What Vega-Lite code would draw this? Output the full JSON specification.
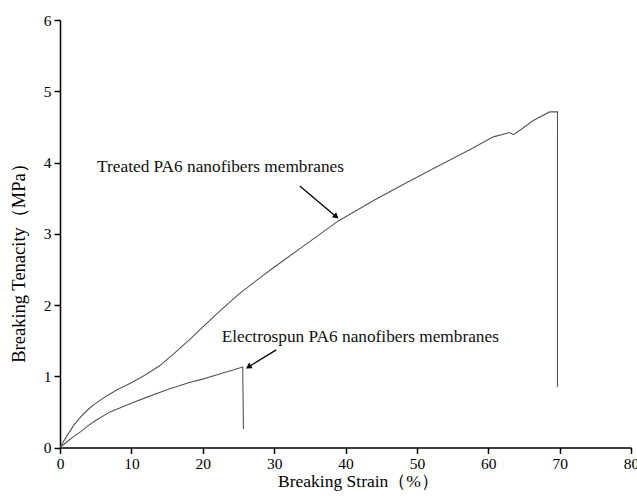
{
  "$schema": "https://vega.github.io/schema/vega-lite/v6.json",
  "width": 571,
  "height": 427.5,
  "autosize": "none",
  "padding": {"left": 60, "top": 20, "right": 6, "bottom": 48.5},
  "background": "white",
  "config": {
    "view": {"stroke": null},
    "font": "Liberation Serif",
    "axis": {
      "domainColor": "black",
      "domainWidth": 1.5,
      "tickColor": "black",
      "tickWidth": 1.5,
      "grid": false,
      "labelFont": "Liberation Serif",
      "labelFontSize": 15.5,
      "labelColor": "black",
      "titleFont": "Liberation Serif",
      "titleFontSize": 17.5,
      "titleFontWeight": "normal",
      "titleColor": "black"
    }
  },
  "datasets": {
    "curves": [
      {"series": "Treated", "strain": 0, "tenacity": 0},
      {"series": "Treated", "strain": 1, "tenacity": 0.17},
      {"series": "Treated", "strain": 2, "tenacity": 0.32},
      {"series": "Treated", "strain": 3, "tenacity": 0.44},
      {"series": "Treated", "strain": 4, "tenacity": 0.54},
      {"series": "Treated", "strain": 5, "tenacity": 0.62},
      {"series": "Treated", "strain": 6, "tenacity": 0.69},
      {"series": "Treated", "strain": 7, "tenacity": 0.75},
      {"series": "Treated", "strain": 8, "tenacity": 0.81},
      {"series": "Treated", "strain": 10, "tenacity": 0.91},
      {"series": "Treated", "strain": 12, "tenacity": 1.02},
      {"series": "Treated", "strain": 14, "tenacity": 1.15},
      {"series": "Treated", "strain": 16, "tenacity": 1.32},
      {"series": "Treated", "strain": 18, "tenacity": 1.5},
      {"series": "Treated", "strain": 20, "tenacity": 1.69},
      {"series": "Treated", "strain": 22, "tenacity": 1.88},
      {"series": "Treated", "strain": 25, "tenacity": 2.15},
      {"series": "Treated", "strain": 28, "tenacity": 2.38},
      {"series": "Treated", "strain": 30, "tenacity": 2.53},
      {"series": "Treated", "strain": 34, "tenacity": 2.82},
      {"series": "Treated", "strain": 39, "tenacity": 3.18},
      {"series": "Treated", "strain": 44, "tenacity": 3.47},
      {"series": "Treated", "strain": 48.6, "tenacity": 3.72},
      {"series": "Treated", "strain": 53, "tenacity": 3.95},
      {"series": "Treated", "strain": 57.4, "tenacity": 4.18},
      {"series": "Treated", "strain": 60.7, "tenacity": 4.36},
      {"series": "Treated", "strain": 63.0, "tenacity": 4.42},
      {"series": "Treated", "strain": 63.5, "tenacity": 4.39},
      {"series": "Treated", "strain": 64.4, "tenacity": 4.45},
      {"series": "Treated", "strain": 66.3, "tenacity": 4.59},
      {"series": "Treated", "strain": 68.6, "tenacity": 4.71},
      {"series": "Treated", "strain": 69.7, "tenacity": 4.71},
      {"series": "Treated", "strain": 69.7, "tenacity": 0.85},
      {"series": "Electrospun", "strain": 0, "tenacity": 0},
      {"series": "Electrospun", "strain": 1, "tenacity": 0.08},
      {"series": "Electrospun", "strain": 2, "tenacity": 0.16},
      {"series": "Electrospun", "strain": 3, "tenacity": 0.23},
      {"series": "Electrospun", "strain": 4, "tenacity": 0.31},
      {"series": "Electrospun", "strain": 5, "tenacity": 0.38},
      {"series": "Electrospun", "strain": 7, "tenacity": 0.5},
      {"series": "Electrospun", "strain": 10, "tenacity": 0.62},
      {"series": "Electrospun", "strain": 12, "tenacity": 0.7},
      {"series": "Electrospun", "strain": 15, "tenacity": 0.81},
      {"series": "Electrospun", "strain": 18, "tenacity": 0.91},
      {"series": "Electrospun", "strain": 20, "tenacity": 0.96},
      {"series": "Electrospun", "strain": 22, "tenacity": 1.02},
      {"series": "Electrospun", "strain": 24, "tenacity": 1.08},
      {"series": "Electrospun", "strain": 25.6, "tenacity": 1.13},
      {"series": "Electrospun", "strain": 25.7, "tenacity": 0.26}
    ],
    "labels": [
      {"label": "Treated PA6 nanofibers membranes", "strain": 5.2, "tenacity": 3.94},
      {"label": "Electrospun PA6 nanofibers membranes", "strain": 22.65, "tenacity": 1.55}
    ],
    "arrowTreated": [
      {"strain": 33.6, "tenacity": 3.67, "strain2": 38.7, "tenacity2": 3.24}
    ],
    "arrowElectro": [
      {"strain": 30.3, "tenacity": 1.37, "strain2": 26.4, "tenacity2": 1.13}
    ]
  },
  "layer": [
    {
      "data": {"name": "curves"},
      "mark": {"type": "line", "color": "#555555", "strokeWidth": 1.1},
      "encoding": {
        "x": {
          "field": "strain", "type": "quantitative",
          "scale": {"domain": [0, 80], "nice": false, "zero": false},
          "axis": {
            "title": "Breaking Strain（%）",
            "values": [0, 5, 10, 15, 20, 25, 30, 35, 40, 45, 50, 55, 60, 65, 70, 75, 80],
            "labelExpr": "datum.value % 10 === 0 ? format(datum.value, 'd') : ''",
            "tickSize": {"expr": "datum.value % 10 === 0 ? 6 : 3"},
            "labelPadding": 3,
            "labelFlush": false,
            "labelOverlap": false,
            "titleX": 298,
            "titleY": 38.5,
            "titleBaseline": "alphabetic"
          }
        },
        "y": {
          "field": "tenacity", "type": "quantitative",
          "scale": {"domain": [0, 6], "nice": false, "zero": false},
          "axis": {
            "title": "Breaking Tenacity（MPa）",
            "titleFontSize": 18.5,
            "values": [0, 0.5, 1, 1.5, 2, 2.5, 3, 3.5, 4, 4.5, 5, 5.5, 6],
            "labelExpr": "datum.value % 1 === 0 ? format(datum.value, 'd') : ''",
            "tickSize": {"expr": "datum.value % 1 === 0 ? 6 : 3"},
            "labelPadding": 3,
            "labelFlush": false,
            "labelOverlap": false,
            "titleX": -32,
            "titleY": 238,
            "titleAnchor": null
          }
        },
        "detail": {"field": "series"},
        "order": {"value": null}
      }
    },
    {
      "data": {"name": "labels"},
      "mark": {"type": "text", "align": "left", "baseline": "middle", "fontSize": 17.3, "font": "Liberation Serif", "color": "#111111"},
      "encoding": {
        "x": {"field": "strain", "type": "quantitative"},
        "y": {"field": "tenacity", "type": "quantitative"},
        "text": {"field": "label"}
      }
    },
    {
      "data": {"name": "arrowTreated"},
      "mark": {"type": "rule", "color": "black", "strokeWidth": 1.3},
      "encoding": {
        "x": {"field": "strain", "type": "quantitative"},
        "y": {"field": "tenacity", "type": "quantitative"},
        "x2": {"field": "strain2"},
        "y2": {"field": "tenacity2"}
      }
    },
    {
      "data": {"name": "arrowTreated"},
      "mark": {"type": "point", "shape": "triangle-up", "filled": true, "color": "black", "size": 45, "opacity": 1, "angle": 130},
      "encoding": {
        "x": {"field": "strain2", "type": "quantitative"},
        "y": {"field": "tenacity2", "type": "quantitative"}
      }
    },
    {
      "data": {"name": "arrowElectro"},
      "mark": {"type": "rule", "color": "black", "strokeWidth": 1.3},
      "encoding": {
        "x": {"field": "strain", "type": "quantitative"},
        "y": {"field": "tenacity", "type": "quantitative"},
        "x2": {"field": "strain2"},
        "y2": {"field": "tenacity2"}
      }
    },
    {
      "data": {"name": "arrowElectro"},
      "mark": {"type": "point", "shape": "triangle-up", "filled": true, "color": "black", "size": 45, "opacity": 1, "angle": 239},
      "encoding": {
        "x": {"field": "strain2", "type": "quantitative"},
        "y": {"field": "tenacity2", "type": "quantitative"}
      }
    }
  ]
}
